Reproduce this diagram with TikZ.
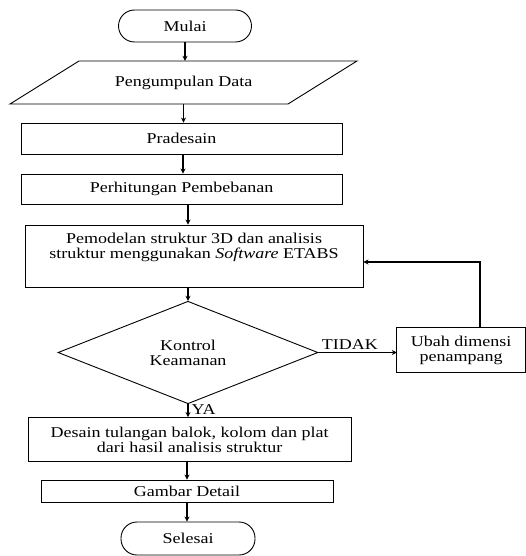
\documentclass[tikz,border=0pt]{standalone}
\usepackage{fontspec}
\setmainfont{Liberation Serif}[FakeStretch=1.2]
\usetikzlibrary{shapes.geometric,arrows.meta,calc}
\tikzset{
  base/.style={font=\fontsize{15}{15}\selectfont, align=center, inner sep=0pt},
  procbox/.style={base, draw, line width=0.9pt, rectangle},
  termbox/.style={base, draw, line width=0.9pt, rectangle, rounded corners=16pt},
  decbox/.style={base, draw, line width=0.9pt, diamond},
  arr/.style={line width=1.3pt, -{Stealth[length=5pt,width=5pt]}},
  lbl/.style={base}
}
\begin{document}
\begin{tikzpicture}[x=1pt,y=-1pt]
\useasboundingbox (0,0) rectangle (526,556);
\node[termbox, minimum width=133pt, minimum height=32pt] (mulai) at (185,26) {Mulai};
\node[base, minimum width=209pt, minimum height=43pt] (data) at (183.5,82.5) {Pengumpulan Data};
\draw[line width=0.9pt] (79,61) -- (357,61) -- (288,104) -- (10,104) -- cycle;
\node[procbox, minimum width=321pt, minimum height=31pt] (prades) at (181.5,138.5) {Pradesain};
\node[procbox, minimum width=321pt, minimum height=30pt] (hitung) at (181.5,189) {Perhitungan Pembebanan};
\node[procbox, minimum width=338pt, minimum height=62pt] (model) at (194,256)
  {Pemodelan struktur 3D dan analisis\\ struktur menggunakan \textit{Software} ETABS\\ \strut};
\node[decbox, minimum width=260pt, minimum height=95pt] (kontrol) at (188,352.5) {Kontrol\\ Keamanan};
\node[base, minimum width=128pt, minimum height=44pt] (ubah) at (461,350) {Ubah dimensi\\ penampang};
\draw[line width=0.9pt] (ubah.north west) rectangle (ubah.south east);
\node[procbox, minimum width=323pt, minimum height=44pt] (desain) at (189.5,439.5)
  {Desain tulangan balok, kolom dan plat\\ dari hasil analisis struktur};
\node[procbox, minimum width=292pt, minimum height=22pt] (gambar) at (187,491) {Gambar Detail};
\node[termbox, minimum width=134pt, minimum height=33pt] (selesai) at (188,538.5) {Selesai};

\draw[arr] (mulai.south) -- (mulai.south |- data.north);
\draw[arr] (data.south) -- (data.south |- prades.north);
\draw[arr] ([xshift=1.5pt]prades.south) -- ([xshift=1.5pt]prades.south |- hitung.north);
\draw[arr] ([xshift=6.5pt]hitung.south) -- ([xshift=6.5pt]hitung.south |- model.north);
\draw[arr] (model.south -| kontrol.north) -- (kontrol.north);
\draw[arr] (kontrol.east) -- (kontrol.east -| ubah.west)
  node[lbl, pos=0.4, above=2pt] {TIDAK};
\draw[arr, line width=1.5pt] ([xshift=19pt]ubah.north) |- ([yshift=-6pt]model.east);
\draw[arr] (kontrol.south) -- (kontrol.south |- desain.north)
  node[lbl, pos=0.45, right=3pt] {YA};
\draw[arr] (desain.south -| gambar.north) -- (gambar.north);
\draw[arr] (gambar.south) -- (gambar.south |- selesai.north);
\end{tikzpicture}
\end{document}
